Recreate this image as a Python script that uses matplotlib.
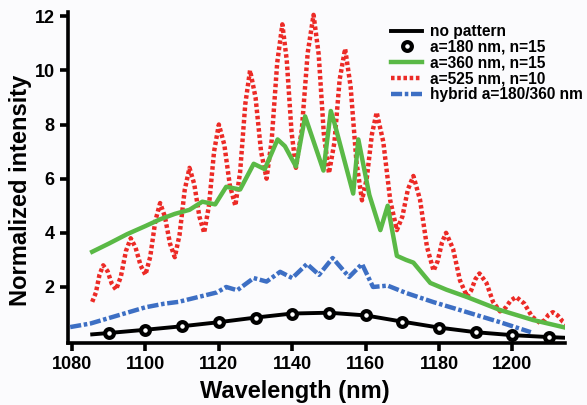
import matplotlib.pyplot as plt

plt.rcParams['font.family'] = ['Liberation Sans', 'DejaVu Sans']
plt.rcParams['font.weight'] = 'bold'

# no pattern (black line)
wl_black = [1085.5, 1090, 1100, 1110, 1120, 1130, 1140, 1150, 1160, 1170, 1180, 1190, 1200, 1210, 1215]
int_black = [0.25, 0.3, 0.42, 0.55, 0.7, 0.87, 1.02, 1.05, 0.95, 0.72, 0.5, 0.33, 0.22, 0.15, 0.12]

# a=180 nm, n=15 (circles)
wl_180 = [1090, 1100, 1110, 1120, 1130, 1140, 1150, 1160, 1170, 1180, 1190, 1200, 1210]
int_180 = [0.3, 0.42, 0.55, 0.7, 0.87, 1.02, 1.05, 0.95, 0.72, 0.5, 0.33, 0.22, 0.15]

# a=360 nm, n=15 (green)
wl_360 = [1085.5, 1090, 1095, 1100, 1104, 1108, 1112, 1115.5, 1119, 1122, 1125.8, 1129.5,
          1132.5, 1136, 1138, 1141, 1143.5, 1148.5, 1150.5, 1151.5, 1156.6, 1158, 1161,
          1164, 1166, 1168.5, 1171, 1173, 1177.6, 1182, 1187.6, 1196.6, 1205.6, 1215]
int_360 = [3.3, 3.6, 3.95, 4.25, 4.5, 4.7, 4.85, 5.15, 5.05, 5.7, 5.6, 6.55,
           6.35, 7.45, 7.2, 6.45, 8.3, 6.3, 8.5, 8.05, 5.45, 7.45, 5.4,
           4.1, 5.0, 3.15, 3.0, 2.9, 2.15, 1.9, 1.63, 1.15, 0.78, 0.48]

# a=525 nm, n=10 (red dotted)
wl_525 = [1085.5, 1086.5, 1087.5, 1088.5, 1089.7, 1090.8, 1092, 1093.3, 1094.7, 1096,
          1097.3, 1098.7, 1100, 1101.3, 1102.7, 1104, 1105.3, 1106.7, 1108, 1109.3,
          1110.7, 1112, 1113.3, 1114.7, 1116, 1117.3, 1118.7, 1120, 1121.5, 1123,
          1124.5, 1125.8, 1127.2, 1128.5, 1130, 1131.5, 1133, 1134.4, 1135.9, 1137.3,
          1138.5, 1139.8, 1141, 1142.6, 1144.2, 1145.8, 1147.2, 1148.6, 1150, 1151.5,
          1152.9, 1154.4, 1155.9, 1157.5, 1159, 1160.3, 1161.7, 1163, 1164.8, 1166.7,
          1168.5, 1170, 1171.5, 1173, 1174.8, 1176.7, 1178.5, 1179.6, 1180.8, 1181.9,
          1183.8, 1185.7, 1187.6, 1188.7, 1189.9, 1191, 1192.9, 1194.7, 1196.6, 1198.1,
          1199.5, 1201, 1203.2, 1205.3, 1207.5, 1208.7, 1209.8, 1211, 1212.3, 1213.7, 1215]
int_525 = [1.45, 1.79, 2.46, 2.8, 2.58, 2.13, 1.9, 2.38, 3.33, 3.8,
           3.46, 2.79, 2.45, 3.11, 4.44, 5.1, 4.6, 3.6, 3.1, 3.93,
           5.58, 6.4, 5.8, 4.6, 4.0, 5.0, 7.0, 8.0, 7.25, 5.75,
           5.0, 6.25, 8.75, 10.0, 9.0, 7.0, 6.0, 7.43, 10.28, 11.7,
           10.38, 7.73, 6.4, 7.81, 10.64, 12.05, 10.59, 7.66, 6.2, 7.35,
           9.65, 10.8, 9.4, 6.6, 5.2, 6.01, 7.64, 8.45, 7.36, 5.19,
           4.1, 4.6, 5.6, 6.1, 5.23, 3.48, 2.6, 2.95, 3.65, 4.0,
           3.41, 2.24, 1.65, 1.86, 2.29, 2.5, 2.15, 1.45, 1.1, 1.23,
           1.5, 1.63, 1.39, 0.91, 0.67, 0.77, 0.97, 1.07, 0.95, 0.72, 0.6]

# hybrid a=180/360 nm (blue dash-dot)
wl_hyb = [1079.5, 1085, 1090, 1095, 1100, 1105, 1109, 1112, 1115, 1119.5, 1122, 1125,
          1129.5, 1133, 1136.7, 1140, 1144, 1147.3, 1151, 1155.5, 1159, 1162, 1166,
          1171, 1178.5, 1187.6, 1196.6, 1205]
int_hyb = [0.52, 0.65, 0.85, 1.05, 1.25, 1.38, 1.45, 1.55, 1.65, 1.8, 2.0, 1.88,
           2.33, 2.2, 2.56, 2.33, 2.85, 2.45, 3.07, 2.37, 2.85, 2.0, 2.05,
           1.78, 1.44, 1.07, 0.7, 0.33]

fig = plt.figure(figsize=(5.87, 4.05), dpi=100, facecolor='#fbfbfd')
ax = fig.add_axes([0.1158, 0.153, 0.8467, 0.817])
ax.set_facecolor('#fbfbfd')

ax.plot(wl_black, int_black, color='black', lw=2.8, label='no pattern', zorder=4)
ax.plot(wl_180, int_180, ls='none', marker='o', ms=6.3, mfc='white', mec='black', mew=3,
        label='a=180 nm, n=15', zorder=5)
ax.plot(wl_360, int_360, color='#5ab946', lw=3.2, label='a=360 nm, n=15', zorder=3)
ax.plot(wl_525, int_525, color='#ec2a26', lw=3.2, ls=(0, (0.8, 0.6)), label='a=525 nm, n=10', zorder=2)
ax.plot(wl_hyb, int_hyb, color='#3d6fc4', lw=3.2, ls=(0, (2.5, 0.6, 0.8, 0.6)),
        label='hybrid a=180/360 nm', zorder=3)

ax.set_xlim(1078.9, 1214.3)
ax.set_ylim(-0.07, 12.15)
ax.set_xticks([1080, 1100, 1120, 1140, 1160, 1180, 1200])
ax.set_yticks([2, 4, 6, 8, 10, 12])

for s in ['top', 'right']:
    ax.spines[s].set_visible(False)
for s in ['left', 'bottom']:
    ax.spines[s].set_linewidth(2.6)
ax.tick_params(width=2.6, length=6, labelsize=13, direction='out')
for lab in ax.get_xticklabels() + ax.get_yticklabels():
    lab.set_fontweight('bold')

ax.set_xlabel('Wavelength (nm)', fontsize=17, fontweight='bold')
ax.xaxis.set_label_coords(0.456, -0.112)
ax.set_ylabel('Normalized intensity', fontsize=17, fontweight='bold')
ax.yaxis.set_label_coords(-0.072, 0.46)

fig.legend(loc='upper left', bbox_to_anchor=(391 / 587, 1 - 24 / 405), frameon=False,
           prop={'weight': 'bold', 'size': 11.2}, handlelength=2.0,
           handletextpad=0.5, labelspacing=0.05, borderpad=0, borderaxespad=0)

fig.savefig('out.png', dpi=100, facecolor=fig.get_facecolor())
